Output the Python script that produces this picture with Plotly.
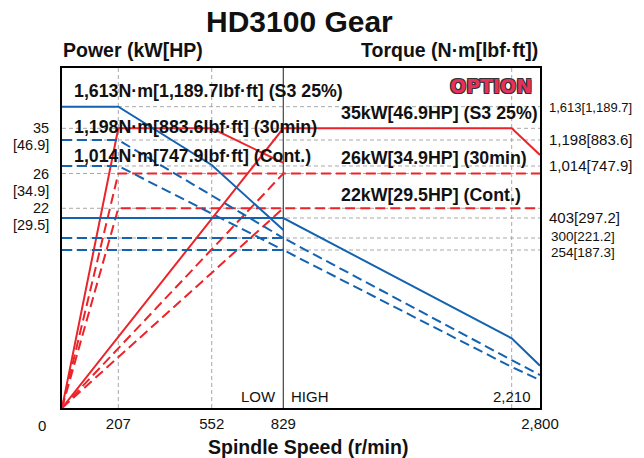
import numpy as np
import plotly.graph_objects as go

# ---------------- data ----------------
speed_ticks = [0, 207, 552, 829, 2210, 2800]
speed_labels = ["0", "207", "552", "829", "2,800"]
power_ticks = [22, 26, 35]
power_hp = ["[29.5]", "[34.9]", "[46.9]"]
torque_ticks = [254, 300, 403, 1014, 1198, 1613]
torque_labels = ["254[187.3]", "300[221.2]", "403[297.2]", "1,014[747.9]", "1,198[883.6]", "1,613[1,189.7]"]

# power curves (kW)
p_low_s3_x, p_low_s3_y = [0, 207, 552, 829], [0, 35, 35, 28.1]
p_low_30_x, p_low_30_y = [0, 207, 829], [0, 26, 26]
p_low_ct_x, p_low_ct_y = [0, 207, 829], [0, 22, 22]
p_high_s3_x, p_high_s3_y = [0, 829, 2210, 2800], [0, 35, 35, 29.7]
p_high_30_x, p_high_30_y = [0, 829, 2800], [0, 26, 26]
p_high_ct_x, p_high_ct_y = [0, 829, 2800], [0, 22, 22]

# torque curves (N·m)
t_low_s3_x, t_low_s3_y = [0, 207, 552, 829], [1613, 1613, 1021, 341]
t_low_30_x, t_low_30_y = [0, 207, 829], [1198, 1198, 300]
t_low_ct_x, t_low_ct_y = [0, 207, 829], [1014, 1014, 254]
t_high_s3_x, t_high_s3_y = [0, 829, 2210, 2800], [403, 403, 112, 68]
t_high_30_x, t_high_30_y = [0, 829, 2210, 2800], [300, 300, 77, 53]
t_high_ct_x, t_high_ct_y = [0, 829, 2210, 2800], [254, 254, 66, 45]

# ---------------- schematic (piecewise) scales ----------------
X_FRAC = [0, 0.1178, 0.3132, 0.4630, 0.9408, 1.0]
P_FRAC = [0, 0.5874, 0.6897, 0.8226]
T_FRAC = [0, 0.4647, 0.5, 0.5588, 0.7118, 0.7882, 0.8862]


def fx(v):
    return np.interp(v, speed_ticks, X_FRAC)


def fp(v):
    return np.interp(v, [0] + power_ticks, P_FRAC)


def ft(v):
    return np.interp(v, [0] + torque_ticks, T_FRAC)


RED = "#ec2429"
BLUE = "#1463b0"
GRID = "#a8a8a8"
FONT = "Liberation Sans, Arial, sans-serif"
L, R, T, B = 62, 104, 68, 50
W, H = 644, 458
PW, PH = W - L - R, H - T - B


def px2x(px):
    return (px - L) / PW


def px2y(py):
    return (H - B - py) / PH


fig = go.Figure()

# gridlines (shapes)
shapes = []
for v in power_ticks:
    shapes.append(dict(type="line", xref="paper", yref="y", x0=0, x1=1, y0=fp(v), y1=fp(v),
                       line=dict(color=GRID, width=1, dash="4px,3px"), layer="below"))
for v in torque_ticks:
    shapes.append(dict(type="line", xref="paper", yref="y", x0=0, x1=1, y0=ft(v), y1=ft(v),
                       line=dict(color=GRID, width=1, dash="4px,3px"), layer="below"))
for v in [207, 552, 2210]:
    shapes.append(dict(type="line", xref="x", yref="paper", x0=fx(v), x1=fx(v), y0=0, y1=1,
                       line=dict(color=GRID, width=1, dash="4px,3px"), layer="below"))
shapes.append(dict(type="line", xref="x", yref="paper", x0=fx(829), x1=fx(829), y0=0, y1=1,
                   line=dict(color="#444", width=1.2), layer="below"))


def add(xs, ys, f, color, dash, yaxis="y"):
    fig.add_trace(go.Scatter(x=fx(np.array(xs)), y=f(np.array(ys)), mode="lines",
                             line=dict(color=color, width=2, dash=dash), yaxis=yaxis,
                             showlegend=False, hoverinfo="skip"))


DASH = "10px,5px"
add(t_high_s3_x, t_high_s3_y, ft, BLUE, "solid", "y2")
add(t_high_30_x, t_high_30_y, ft, BLUE, DASH, "y2")
add(t_high_ct_x, t_high_ct_y, ft, BLUE, DASH, "y2")
add(t_low_s3_x, t_low_s3_y, ft, BLUE, "solid", "y2")
add(t_low_30_x, t_low_30_y, ft, BLUE, DASH, "y2")
add(t_low_ct_x, t_low_ct_y, ft, BLUE, DASH, "y2")
add(p_low_s3_x, p_low_s3_y, fp, RED, "solid")
add(p_low_30_x, p_low_30_y, fp, RED, DASH)
add(p_low_ct_x, p_low_ct_y, fp, RED, DASH)
add(p_high_s3_x, p_high_s3_y, fp, RED, "solid")
add(p_high_30_x, p_high_30_y, fp, RED, DASH)
add(p_high_ct_x, p_high_ct_y, fp, RED, DASH)

ann = []
# left power labels
for v, hp in zip(power_ticks, power_hp):
    ann.append(dict(x=px2x(51), y=fp(v), xref="paper", yref="y", text=str(v), showarrow=False,
                    xanchor="right", yanchor="middle", font=dict(size=14.5, color="#111")))
    ann.append(dict(x=px2x(51), y=fp(v), xref="paper", yref="y", text=hp, showarrow=False,
                    xanchor="right", yanchor="middle", yshift=-17, font=dict(size=14.5, color="#111")))

# the two closely spaced torque labels (nudged apart as in the reference)
for v, s, dy in [(torque_ticks[0], torque_labels[0], -2), (torque_ticks[1], torque_labels[1], 1.5)]:
    ann.append(dict(x=px2x(549), y=ft(v), xref="paper", yref="y", text=s, showarrow=False,
                    xanchor="left", yanchor="middle", yshift=dy, font=dict(size=13.5, color="#111")))

# speed zero label
ann.append(dict(x=px2x(42), y=px2y(425), xref="paper", yref="paper", text="0", showarrow=False,
                xanchor="center", yanchor="middle", font=dict(size=15, color="#111")))


def txt(x, y, s, size=15, bold=False, xa="left"):
    ann.append(dict(x=px2x(x), y=px2y(y), xref="paper", yref="paper",
                    text=("<b>%s</b>" % s) if bold else s, showarrow=False,
                    xanchor=xa, yanchor="middle", font=dict(size=size, color="#111")))


txt(72, 91, "1,613N·m[1,189.7lbf·ft] (S3 25%)", 17.8, True)
txt(72, 127, "1,198N·m[883.6lbf·ft] (30min)", 17.8, True)
txt(72, 156, "1,014N·m[747.9lbf·ft] (Cont.)", 17.8, True)
txt(339, 113, "35kW[46.9HP] (S3 25%)", 17.8, True)
txt(339, 158, "26kW[34.9HP] (30min)", 17.8, True)
txt(339, 195, "22kW[29.5HP] (Cont.)", 17.8, True)
txt(278, 396, "LOW", 15, False, "right")
txt(289, 396, "HIGH", 15, False, "left")
txt(533, 396, "2,210", 15, False, "right")

# headers
txt(299, 21, "HD3100 Gear", 30, True, "center")
txt(61, 50, "Power (kW[HP)", 19.5, True, "left")
txt(540, 50, "Torque (N·m[lbf·ft])", 19.5, True, "right")
txt(308, 447, "Spindle Speed (r/min)", 19.5, True, "center")

# OPTION badge
ann.append(dict(x=px2x(491), y=px2y(86), xref="paper", yref="paper", text="<b>OPTION</b>",
                showarrow=False, xanchor="center", yanchor="middle",
                font=dict(size=19, color="#e8305a", family="DejaVu Sans",
                          shadow="1px 1px 0 #333, -1px -1px 0 #333, 1px -1px 0 #333, -1px 1px 0 #333")))

fig.update_layout(
    width=W, height=H,
    margin=dict(l=L, r=R, t=T, b=B, autoexpand=False),
    paper_bgcolor="white", plot_bgcolor="white",
    font=dict(family=FONT, color="#111"),
    shapes=shapes, annotations=ann,
    xaxis=dict(range=[0, 1], showgrid=False, zeroline=False,
               tickvals=fx(np.array(speed_ticks[1:3] + [829, 2800])),
               ticktext=speed_labels[1:], ticks="", tickfont=dict(size=15),
               showline=True, mirror=True, linecolor="#000", linewidth=2,
               ticklabelstandoff=1, automargin=False),
    yaxis=dict(range=[0, 1], showgrid=False, zeroline=False, showticklabels=False, ticks="",
               showline=True, mirror=True, linecolor="#000", linewidth=2, automargin=False),
    yaxis2=dict(range=[0, 1], overlaying="y", side="right", showgrid=False, zeroline=False,
                tickvals=ft(np.array(torque_ticks[2:])),
                ticktext=torque_labels[2:5]
                + ["<span style='font-size:13px'>%s</span>" % torque_labels[5]],
                ticks="", tickfont=dict(size=15), showline=False, ticklabelstandoff=8,
                automargin=False),
)

fig.write_html("out.html", config={"displayModeBar": False},
               post_script="document.body.style.margin='0';")
